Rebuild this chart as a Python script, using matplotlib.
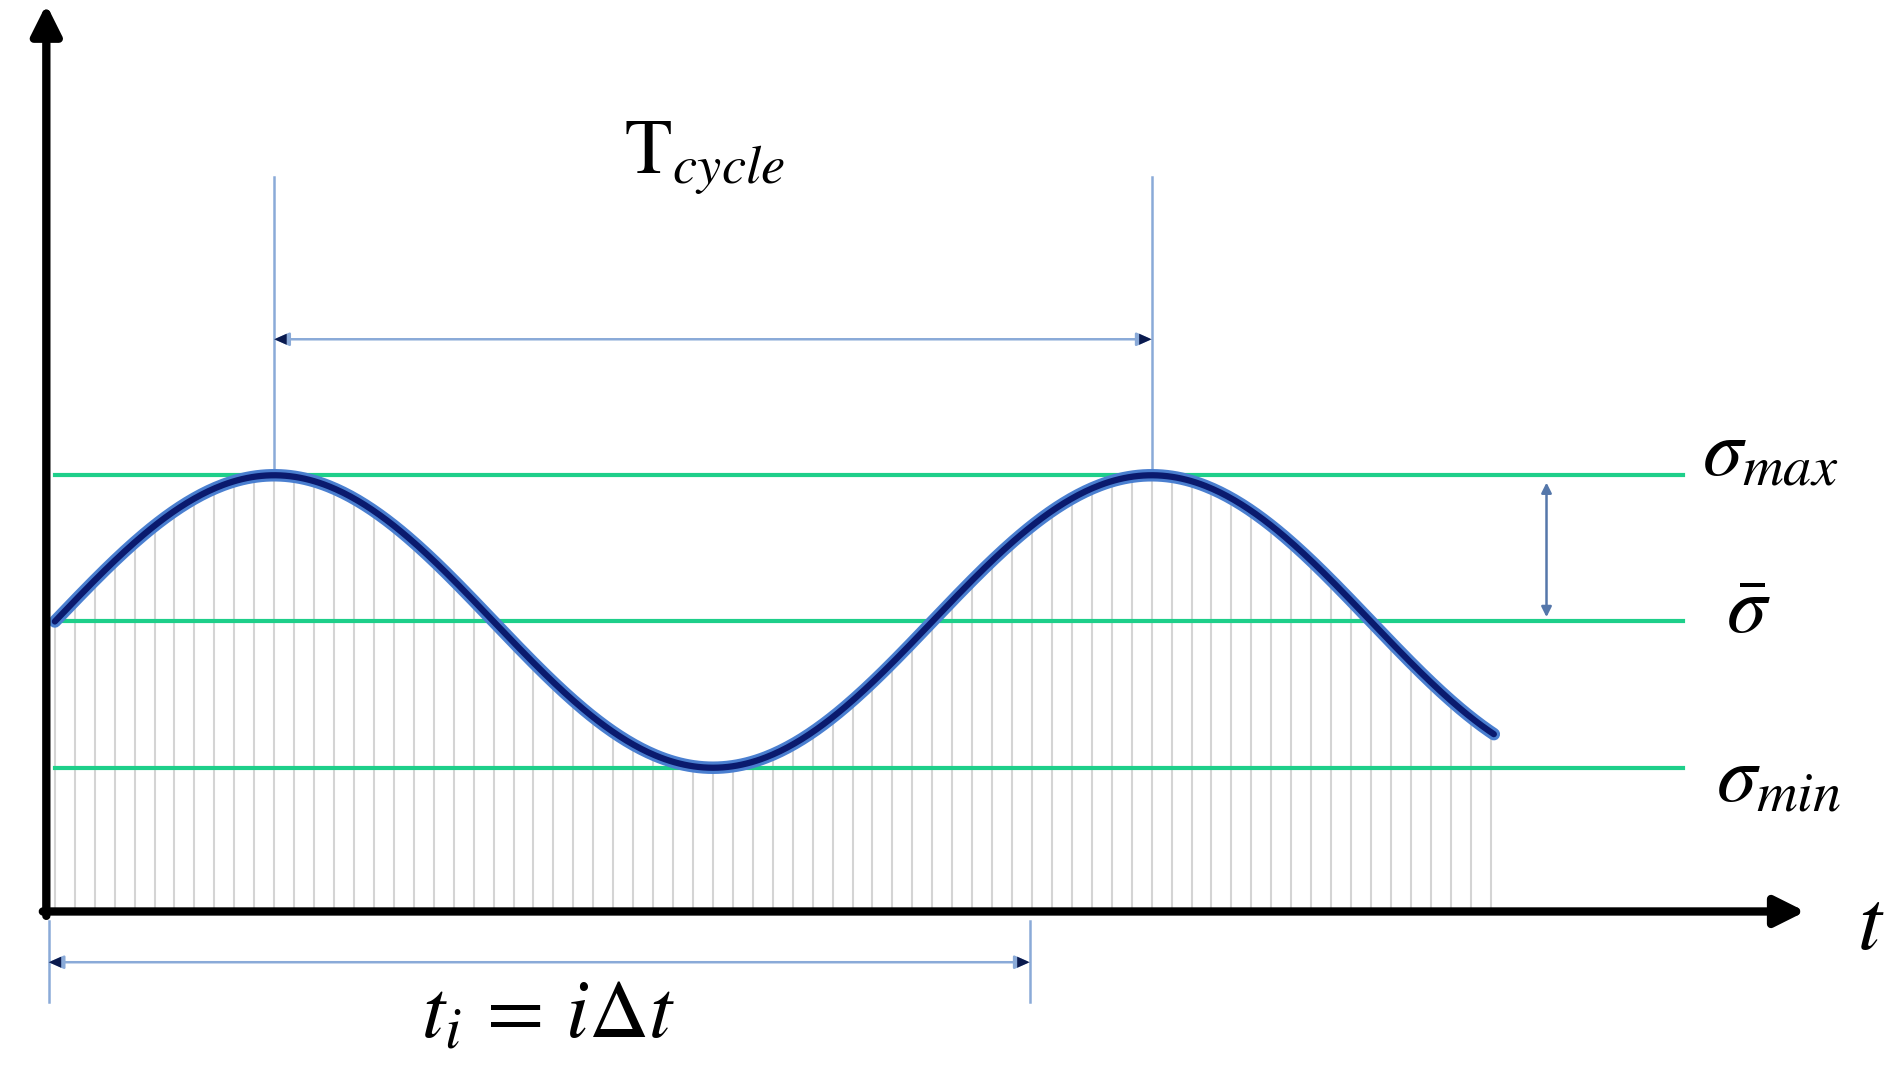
import numpy as np
import matplotlib
matplotlib.use("Agg")
import matplotlib.pyplot as plt

plt.rcParams['mathtext.fontset'] = 'stix'

# signal description (period units)
T_cycle = 1.0
sigma_mean = 0.0
sigma_amp = 1.0
t_end = 1.64
dt = 1.0 / 44
ti_mark = 1.111

t = np.linspace(0, t_end, 600)
sig = sigma_mean + sigma_amp * np.sin(2 * np.pi * t / T_cycle)
t_samp = np.arange(0, t_end + 1e-9, dt)
sig_samp = sigma_mean + sigma_amp * np.sin(2 * np.pi * t_samp / T_cycle)

fig = plt.figure(figsize=(19.01, 10.70), dpi=100)
ax = fig.add_axes([0, 0, 1, 1])
ax.set_xlim(-0.0625, 2.104)
ax.set_ylim(-3.067, 4.25)
ax.axis('off')

y0 = -1.983
# sample lines
ax.vlines(t_samp, y0, sig_samp, color='#d4d4d4', lw=1.5, zorder=1)

# reference levels
for lev in [sigma_mean + sigma_amp, sigma_mean, sigma_mean - sigma_amp]:
    ax.plot([0, 1.855], [lev, lev], color='#1ecf8a', lw=3, zorder=2)

# signal
ax.plot(t, sig, color='#4a7fd0', lw=9, zorder=3, solid_capstyle='round')
ax.plot(t, sig, color='#0a1a6e', lw=4.5, zorder=4, solid_capstyle='round')

# axes
ax.annotate('', xy=(-0.0097, 4.22), xytext=(-0.0097, y0 - 0.03),
            arrowprops=dict(arrowstyle='-|>,head_width=0.9,head_length=1.8', lw=6, color='black',
                            shrinkA=0, shrinkB=0))
ax.annotate('', xy=(1.995, y0), xytext=(-0.0097 - 0.004, y0),
            arrowprops=dict(arrowstyle='-|>,head_width=0.9,head_length=1.8', lw=6, color='black',
                            shrinkA=0, shrinkB=0))

# T cycle marker
lc = '#8aaad8'
for tp in [T_cycle / 4, T_cycle / 4 + T_cycle]:
    ax.plot([tp, tp], [sigma_amp, 3.04], color=lc, lw=1.8)
for w, c in [(1.8, lc), (0, '#0a1a4e')]:
    ax.annotate('', xy=(0.25, 1.93), xytext=(1.25, 1.93),
                arrowprops=dict(arrowstyle='<|-|>,head_width=0.4,head_length=0.9', lw=w, color=c,
                                shrinkA=0, shrinkB=0))
ax.text(0.74, 3.17, r'$\mathrm{T}_{cycle}$', fontsize=56, ha='center', va='center')

# amplitude arrow
ax.annotate('', xy=(1.70, 0.95), xytext=(1.70, 0.03),
            arrowprops=dict(arrowstyle='<|-|>,head_width=0.3,head_length=0.6', lw=1.8, color='#5577aa',
                            shrinkA=0, shrinkB=0))

# level labels
ax.text(1.955, 1.15, r'$\sigma_{max}$', fontsize=58, ha='center', va='center')
ax.text(1.93, 0.07, r'$\bar{\sigma}$', fontsize=58, ha='center', va='center')
ax.text(1.965, -1.08, r'$\sigma_{min}$', fontsize=58, ha='center', va='center')
ax.text(2.07, -2.08, r'$t$', fontsize=62, ha='center', va='center')

# t_i marker
for tp in [-0.007, ti_mark]:
    ax.plot([tp, tp], [-2.05, -2.6], color=lc, lw=1.8)
for w, c in [(1.8, lc), (0, '#0a1a4e')]:
    ax.annotate('', xy=(-0.007, -2.33), xytext=(ti_mark, -2.33),
                arrowprops=dict(arrowstyle='<|-|>,head_width=0.4,head_length=0.9', lw=w, color=c,
                                shrinkA=0, shrinkB=0))
ax.text(0.5625, -2.68, r'$t_i\,=\,i\Delta t$', fontsize=60, ha='center', va='center')

fig.savefig('out.png', dpi=100)
